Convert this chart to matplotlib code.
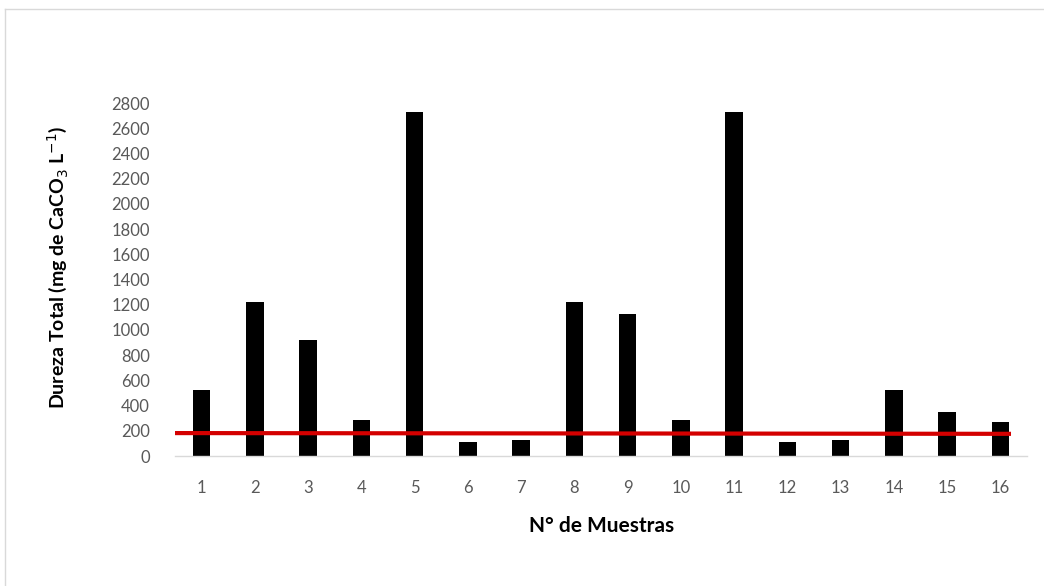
import matplotlib
matplotlib.use("Agg")
import matplotlib.pyplot as plt
from matplotlib.lines import Line2D

samples = [str(i) for i in range(1, 17)]
dureza = [520, 1220, 920, 285, 2730, 115, 125, 1220, 1125, 285, 2730, 115, 125, 520, 347, 272]
limit_x = [0.5, 16.2]
limit_y = [182, 176]
yticks = list(range(0, 2801, 200))

plt.rcParams['font.family'] = ['Lato', 'DejaVu Sans']

fig = plt.figure(figsize=(10.44, 5.86), dpi=100)
ax = fig.add_axes([0.1676, 0.2218, 0.8161, 0.6024])

pos = list(range(1, len(samples) + 1))
ax.bar(pos, dureza, width=0.33, color='black', zorder=2)
ax.plot(limit_x, limit_y, color='#d40000', lw=3, solid_capstyle='butt', zorder=3)

ax.set_xlim(0.5, 16.5)
ax.set_ylim(0, 2800)
ax.set_yticks(yticks)
ax.set_yticklabels([str(t) for t in yticks], color='#595959', fontsize=12)
ax.set_xticks(pos)
ax.set_xticklabels(samples, color='#595959', fontsize=12)
ax.tick_params(axis='y', length=0, pad=18)
ax.tick_params(axis='x', length=0, pad=17)
for s in ['top', 'right', 'left']:
    ax.spines[s].set_visible(False)
ax.spines['bottom'].set_color('#d9d9d9')
ax.spines['bottom'].set_linewidth(1)

fig.text(0.055, 0.543, 'Dureza Total (mg de CaCO$_3$ L$^{-1}$)', rotation=90,
         ha='center', va='center', fontsize=14, fontweight='bold', color='black')
fig.text(0.576, 0.103, 'N° de Muestras', ha='center', va='center', fontsize=15,
         fontweight='bold', color='black')

fig.add_artist(Line2D([0.005, 1.0], [0.985, 0.985], transform=fig.transFigure, color='#d9d9d9', lw=1))
fig.add_artist(Line2D([0.005, 0.005], [0.0, 0.985], transform=fig.transFigure, color='#d9d9d9', lw=1))

fig.savefig('out.png', dpi=100)
